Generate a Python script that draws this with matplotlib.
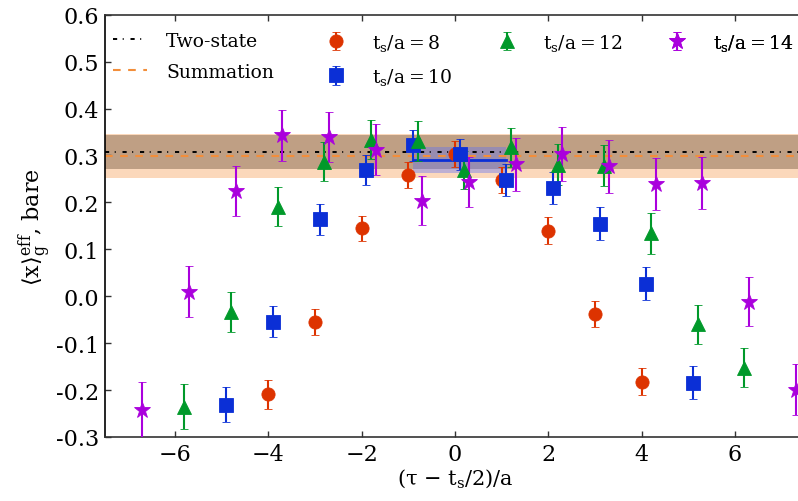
import numpy as np
import matplotlib
matplotlib.use("Agg")
import matplotlib.pyplot as plt
from matplotlib.ticker import FormatStrFormatter

plt.rcParams['font.family'] = ['DejaVu Serif', 'DejaVu Sans']
plt.rcParams['mathtext.fontset'] = 'dejavuserif'
plt.rcParams['lines.scale_dashes'] = False

# ---------------- data ----------------
# t_s/a = 8  (x offset 0.0)
ts8_k = [-4, -3, -2, -1, 0, 1, 2, 3, 4]
ts8_y = [-0.209, -0.055, 0.1445, 0.258, 0.303, 0.247, 0.1395, -0.038, -0.182]
ts8_e = [0.031, 0.027, 0.027, 0.028, 0.028, 0.028, 0.029, 0.028, 0.029]

# t_s/a = 10 (x offset 0.1)
ts10_k = [-5, -4, -3, -2, -1, 0, 1, 2, 3, 4, 5]
ts10_y = [-0.231, -0.054, 0.164, 0.269, 0.322, 0.303, 0.248, 0.230, 0.155, 0.027, -0.184]
ts10_e = [0.038, 0.033, 0.033, 0.033, 0.033, 0.033, 0.034, 0.034, 0.036, 0.036, 0.035]

# t_s/a = 12 (x offset 0.2)
ts12_k = [-6, -5, -4, -3, -2, -1, 0, 1, 2, 3, 4, 5, 6]
ts12_y = [-0.235, -0.034, 0.191, 0.287, 0.334, 0.331, 0.269, 0.317, 0.280, 0.278, 0.134, -0.060, -0.152]
ts12_e = [0.047, 0.042, 0.041, 0.041, 0.042, 0.042, 0.041, 0.042, 0.044, 0.044, 0.043, 0.042, 0.042]

# t_s/a = 14 (x offset 0.3)
ts14_k = [-7, -6, -5, -4, -3, -2, -1, 0, 1, 2, 3, 4, 5, 6, 7]
ts14_y = [-0.243, 0.010, 0.224, 0.343, 0.339, 0.312, 0.204, 0.243, 0.281, 0.303, 0.277, 0.239, 0.241, -0.0115, -0.199]
ts14_e = [0.060, 0.054, 0.053, 0.054, 0.053, 0.054, 0.052, 0.053, 0.057, 0.058, 0.056, 0.055, 0.055, 0.053, 0.054]

offsets = [0.0, 0.1, 0.2, 0.3]
series_labels = ['t$_\\mathrm{s}$/a\u2009=\u20098', 't$_\\mathrm{s}$/a\u2009=\u200910',
                 't$_\\mathrm{s}$/a\u2009=\u200912', 't$_\\mathrm{s}$/a\u2009=\u200914']

# fits
two_state_val, two_state_err = 0.307, 0.036
summation_val, summation_err = 0.299, 0.047
plateau10_val, plateau10_err = 0.290, 0.027
plateau10_range = [-1, 1]

xlim = (-7.5, 7.5)
ylim = (-0.3, 0.6)

# ---------------- plot ----------------
fig = plt.figure(figsize=(7.98, 5.02), dpi=100)
ax = fig.add_axes([105/798, 1 - 438/502, 700/798, (438 - 15.7)/502])

# bands
ax.axhspan(summation_val - summation_err, summation_val + summation_err,
           color='#fbd8bb', lw=0, zorder=1)
ax.axhspan(two_state_val - two_state_err, two_state_val + two_state_err,
           color='#bf9f84', lw=0, zorder=1.1)
xs10 = np.array(plateau10_range) + offsets[1]
ax.fill_between(xs10, plateau10_val - plateau10_err, plateau10_val + plateau10_err,
                color='#5a6efa', alpha=0.38, lw=0, zorder=1.2)

# lines
ln2, = ax.plot(xlim, [two_state_val]*2, color='black', lw=1.4,
               linestyle=(0, (3.0, 4.0, 0.7, 4.9)), zorder=2)
lns, = ax.plot(xlim, [summation_val]*2, color='#f28e3b', lw=1.5,
               linestyle=(0, (5.5, 5.4)), zorder=2)
ax.plot(xs10, [plateau10_val]*2, color='#0b2fd6', lw=2.0, zorder=2.1)

series = [
    (ts8_k, ts8_y, ts8_e, '#dd3300', 'o', 9.5),
    (ts10_k, ts10_y, ts10_e, '#0b2fd6', 's', 10),
    (ts12_k, ts12_y, ts12_e, '#00992a', '^', 10),
    (ts14_k, ts14_y, ts14_e, '#aa00dd', '*', 12),
]
handles = []
for (k, y, e, c, m, ms), off in zip(series, offsets):
    x = np.array(k) + off
    h = ax.errorbar(x, y, yerr=e, fmt=m, color=c, ms=ms, mec=c, mew=0.6,
                    elinewidth=1.5, capsize=3.2, capthick=1.3, zorder=3)
    handles.append(h)

ax.set_xlim(*xlim)
ax.set_ylim(*ylim)
ax.set_xticks([-6, -4, -2, 0, 2, 4, 6])
ax.set_yticks(np.arange(-0.3, 0.61, 0.1))
ax.yaxis.set_major_formatter(FormatStrFormatter('%.1f'))
ax.tick_params(direction='in', top=True, right=True, length=4.5, width=1.0,
               labelsize=16, pad=4, color='#333333')
for s in ax.spines.values():
    s.set_color('#333333')
    s.set_linewidth(1.2)
ax.spines['left'].set_color('black')

ax.set_xlabel(r'($\mathrm{\tau}$ − t$_\mathrm{s}$/2)/a', fontsize=15, labelpad=1)
ax.set_ylabel(r'$\langle \mathrm{x}\rangle_{\mathrm{g}}^{\mathrm{eff}}$, bare', fontsize=16, labelpad=2)

# legend: four columns placed individually
cols = [
    ([ln2, lns], ['Two-state', 'Summation'], 0.0121),
    ([handles[0], handles[1]], series_labels[0:2], 0.3064),
    ([handles[2]], series_labels[2:3], 0.5507),
    ([handles[3]], series_labels[3:4], 0.7936),
]
for hs, labs, x0 in cols:
    leg = ax.legend(hs, labs, loc='upper left', bbox_to_anchor=(x0, 0.960),
                    frameon=False, fontsize=13.5, borderaxespad=0.0, borderpad=0.0,
                    handlelength=1.8, handletextpad=1.0, labelspacing=0.7,
                    numpoints=1)
    ax.add_artist(leg)

fig.savefig('out.png', dpi=100)
